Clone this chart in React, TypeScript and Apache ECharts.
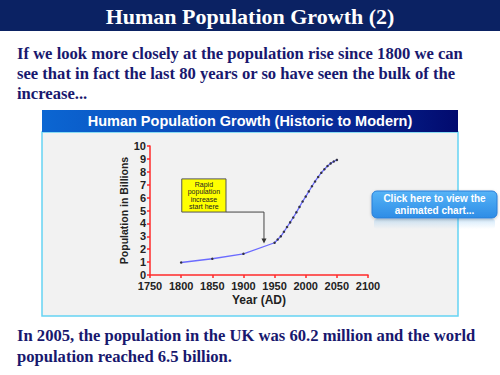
import React, { useEffect, useRef } from "react";
import * as echarts from "echarts";

const years = [1800, 1850, 1900, 1950, 1955, 1960, 1965, 1970, 1975, 1980, 1985, 1990, 1995, 2000, 2005, 2010, 2015, 2020, 2025, 2030, 2035, 2040, 2045, 2050];
const population = [0.97, 1.26, 1.64, 2.5, 2.75, 3.0, 3.35, 3.72, 4.08, 4.46, 4.86, 5.28, 5.7, 6.08, 6.48, 6.88, 7.25, 7.6, 7.92, 8.2, 8.45, 8.65, 8.8, 8.92];

const slideTitle = "Human Population Growth (2)";
const introLines = [
  "If we look more closely at the population rise since 1800 we can",
  "see that in fact the last 80 years or so have seen the bulk of the",
  "increase...",
];
const outroLines = [
  "In 2005, the population in the UK was 60.2 million and the world",
  "population reached 6.5 billion.",
];
const panelTitle = "Human Population Growth (Historic to Modern)";
const noteText = "Rapid\npopulation\nincrease\nstart here";
const buttonText = "Click here to view the\nanimated chart...";

const NAVY = "#18186e";
const SERIF = "'Liberation Serif', 'Times New Roman', serif";
const SANS = "'Liberation Sans', Arial, sans-serif";

export default function App() {
  const ref = useRef<HTMLDivElement>(null);
  useEffect(() => {
    if (!ref.current) return;
    const chart = echarts.init(ref.current, null, { renderer: "svg" });
    const data = years.map((y, i) => [y, population[i]]);
    chart.setOption({
      animation: false,
      backgroundColor: "#ffffff",
      grid: { left: 150, right: 132, top: 146, bottom: 100 },
      xAxis: {
        type: "value",
        min: 1750,
        max: 2100,
        interval: 50,
        name: "Year (AD)",
        nameLocation: "middle",
        nameGap: 19,
        nameTextStyle: { fontFamily: SANS, fontWeight: "bold", fontSize: 12, color: "#222" },
        axisLine: { lineStyle: { color: "#ff2a2a", width: 1.5 } },
        axisTick: { lineStyle: { color: "#ff2a2a", width: 1.5 }, length: 3 },
        axisLabel: { fontFamily: SANS, fontWeight: "bold", fontSize: 11, color: "#222", margin: 5, formatter: (v: number) => String(v) },
        splitLine: { show: false },
      },
      yAxis: {
        type: "value",
        min: 0,
        max: 10,
        interval: 1,
        name: "Population in Billions",
        nameLocation: "middle",
        nameGap: 12,
        nameRotate: 90,
        nameTextStyle: { fontFamily: SANS, fontWeight: "bold", fontSize: 10.5, color: "#222" },
        axisLine: { show: true, lineStyle: { color: "#ff2a2a", width: 1.5 } },
        axisTick: { show: true, lineStyle: { color: "#ff2a2a", width: 1.5 }, length: 3 },
        axisLabel: { fontFamily: SANS, fontWeight: "bold", fontSize: 11, color: "#222", margin: 4 },
        splitLine: { show: false },
      },
      series: [
        {
          type: "line",
          data,
          symbol: "circle",
          symbolSize: 2.5,
          itemStyle: { color: "#333344" },
          lineStyle: { color: "#6b6bff", width: 1.3 },
          z: 5,
        },
      ],
    });

    const boxTL = chart.convertToPixel({ gridIndex: 0 }, [1801, 7.45]) as number[];
    const boxBR = chart.convertToPixel({ gridIndex: 0 }, [1872, 4.88]) as number[];
    const tip = chart.convertToPixel({ gridIndex: 0 }, [1933, 2.45]) as number[];

    chart.setOption({
      graphic: [
        { type: "rect", shape: { x: 0, y: 0, width: 500, height: 31 }, style: { fill: "#0b2263" }, z: -10 },
        {
          type: "text",
          x: 250,
          y: 16,
          style: { text: slideTitle, fill: "#ffffff", font: `bold 22px ${SERIF}`, textAlign: "center", textVerticalAlign: "middle" },
        },
        ...introLines.map((t, i) => ({
          type: "text",
          x: 17,
          y: 53 + i * 20,
          style: { text: t, fill: NAVY, font: `bold 16.6px ${SERIF}`, textAlign: "left", textVerticalAlign: "middle" },
        })),
        ...outroLines.map((t, i) => ({
          type: "text",
          x: 17,
          y: 335 + i * 21,
          style: { text: t, fill: NAVY, font: `bold 16.6px ${SERIF}`, textAlign: "left", textVerticalAlign: "middle" },
        })),
        {
          type: "rect",
          shape: { x: 42, y: 132, width: 416, height: 184 },
          style: { fill: "#f2f2f2", stroke: "#66d4f4", lineWidth: 1.5 },
          z: -10,
        },
        {
          type: "rect",
          shape: { x: 42, y: 110, width: 416, height: 22 },
          style: {
            fill: new echarts.graphic.LinearGradient(0, 0, 1, 0, [
              { offset: 0, color: "#0b66d2" },
              { offset: 0.55, color: "#0a3cae" },
              { offset: 1, color: "#020a6e" },
            ]),
          },
          z: -9,
        },
        {
          type: "text",
          x: 250,
          y: 121,
          style: { text: panelTitle, fill: "#ffffff", font: `bold 14.5px ${SANS}`, textAlign: "center", textVerticalAlign: "middle" },
        },
        {
          type: "rect",
          shape: { x: boxTL[0], y: boxTL[1], width: boxBR[0] - boxTL[0], height: boxBR[1] - boxTL[1] },
          style: { fill: "#ffff00", stroke: "#555555", lineWidth: 1 },
          z: 10,
        },
        {
          type: "text",
          x: (boxTL[0] + boxBR[0]) / 2,
          y: (boxTL[1] + boxBR[1]) / 2,
          style: { text: noteText, fill: "#222", font: `7px ${SANS}`, textAlign: "center", textVerticalAlign: "middle", lineHeight: 7.5 },
          z: 11,
        },
        {
          type: "polyline",
          shape: { points: [[boxBR[0], boxBR[1]], [tip[0], boxBR[1]], [tip[0], tip[1] - 4]] },
          style: { stroke: "#444", lineWidth: 1, fill: null },
          z: 10,
        },
        {
          type: "polygon",
          shape: { points: [[tip[0] - 2.5, tip[1] - 5], [tip[0] + 2.5, tip[1] - 5], [tip[0], tip[1]]] },
          style: { fill: "#333" },
          z: 10,
        },
        {
          type: "rect",
          shape: { x: 372, y: 191, width: 125, height: 27, r: 5 },
          style: {
            fill: new echarts.graphic.LinearGradient(0, 0, 0, 1, [
              { offset: 0, color: "#56b4f7" },
              { offset: 1, color: "#2d8ce6" },
            ]),
            stroke: "#2a7ed8",
            lineWidth: 1,
            shadowBlur: 3,
            shadowColor: "rgba(0,0,0,0.25)",
            shadowOffsetY: 1,
          },
          z: 20,
        },
        {
          type: "text",
          x: 434.5,
          y: 204.5,
          style: { text: buttonText, fill: "#ffffff", font: `bold 10px ${SANS}`, textAlign: "center", textVerticalAlign: "middle", lineHeight: 12 },
          z: 21,
        },
        {
          type: "rect",
          shape: { x: 374, y: 219, width: 121, height: 10, r: 3 },
          style: {
            fill: new echarts.graphic.LinearGradient(0, 0, 0, 1, [
              { offset: 0, color: "rgba(80,170,240,0.25)" },
              { offset: 1, color: "rgba(80,170,240,0)" },
            ]),
          },
          z: 19,
        },
      ],
    });
    return () => chart.dispose();
  }, []);
  return <div ref={ref} style={{ position: "absolute", left: 0, top: 0, width: 500, height: 375 }} />;
}
